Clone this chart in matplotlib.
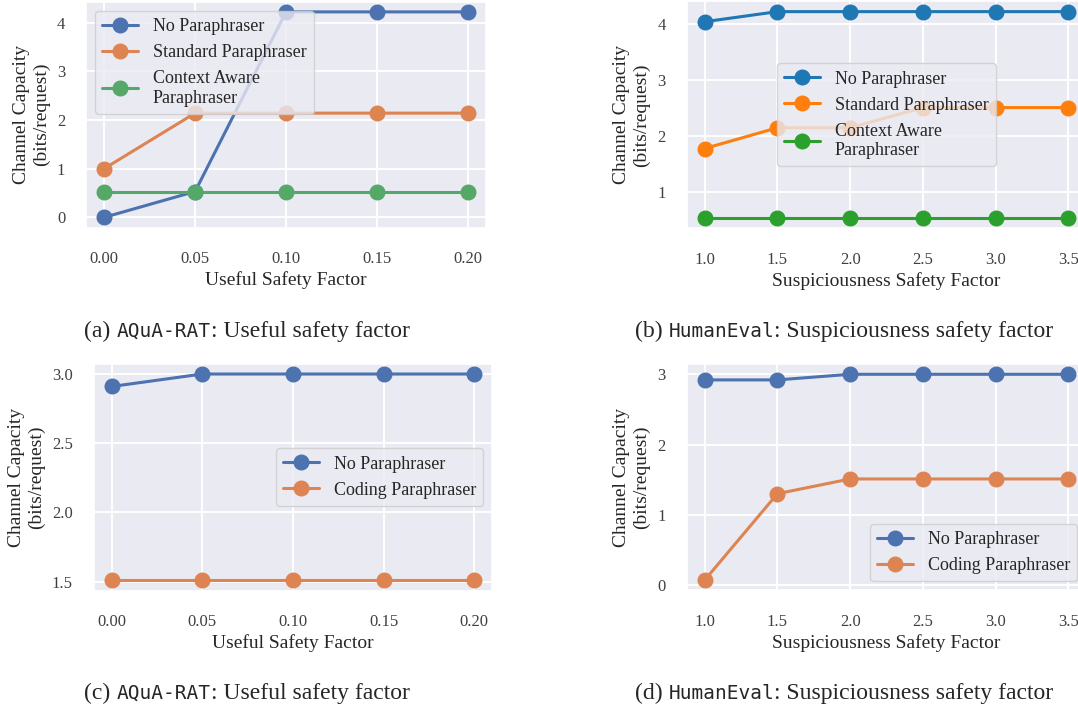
import matplotlib
matplotlib.use("Agg")
import matplotlib.pyplot as plt
import seaborn as sns

sns.set_theme(style="darkgrid")
plt.rcParams["font.family"] = ["Liberation Serif", "DejaVu Serif"]
plt.rcParams["grid.linewidth"] = 1.4

# useful safety factor sweep (AQuA-RAT)
useful_factor = [0.00, 0.05, 0.10, 0.15, 0.20]
aqua_no_para = [0.00, 0.53, 4.22, 4.22, 4.22]
aqua_standard = [1.00, 2.14, 2.14, 2.14, 2.14]
aqua_context = [0.53, 0.53, 0.53, 0.53, 0.53]
aqua_no_para_2 = [2.91, 3.00, 3.00, 3.00, 3.00]
aqua_coding = [1.51, 1.51, 1.51, 1.51, 1.51]

# suspiciousness safety factor sweep (HumanEval)
susp_factor = [1.0, 1.5, 2.0, 2.5, 3.0, 3.5]
he_no_para = [4.04, 4.22, 4.22, 4.22, 4.22, 4.22]
he_standard = [1.78, 2.15, 2.15, 2.51, 2.51, 2.51]
he_context = [0.54, 0.54, 0.54, 0.54, 0.54, 0.54]
he_no_para_2 = [2.92, 2.92, 3.00, 3.00, 3.00, 3.00]
he_coding = [0.07, 1.30, 1.51, 1.51, 1.51, 1.51]

deep = sns.color_palette("deep")
tab = sns.color_palette("tab10")

W, H = 1078, 709
fig = plt.figure(figsize=(W / 100, H / 100), dpi=100)


def px_axes(left, top, right, bottom):
    return fig.add_axes([left / W, 1 - bottom / H, (right - left) / W, (bottom - top) / H])


ax_a = px_axes(86, 1.6, 486, 227.6)
ax_b = px_axes(686.5, 1.3, 1086.5, 228.4)
ax_c = px_axes(93.6, 363.7, 492.4, 590.6)
ax_d = px_axes(686.5, 364, 1086.5, 590.4)

style = dict(marker="o", markersize=10.5, linewidth=2.2)


def finish(ax, xlabel, loc):
    ax.set_xlabel(xlabel, fontsize=14, labelpad=3)
    ax.set_ylabel("Channel Capacity\n(bits/request)", fontsize=14, labelpad=5)
    ax.tick_params(axis="x", labelsize=12, colors="0.25", pad=11)
    ax.tick_params(axis="y", labelsize=12, colors="0.25", pad=9)
    ax.legend(loc=loc, fontsize=13)


ax_a.plot(useful_factor, aqua_no_para, color=deep[0], label="No Paraphraser", **style)
ax_a.plot(useful_factor, aqua_standard, color=deep[1], label="Standard Paraphraser", **style)
ax_a.plot(useful_factor, aqua_context, color=deep[2], label="Context Aware\nParaphraser", **style)
ax_a.set_xticks(useful_factor)
ax_a.set_xticklabels([f"{v:.2f}" for v in useful_factor])
finish(ax_a, "Useful Safety Factor", "upper left")

ax_b.plot(susp_factor, he_no_para, color=tab[0], label="No Paraphraser", **style)
ax_b.plot(susp_factor, he_standard, color=tab[1], label="Standard Paraphraser", **style)
ax_b.plot(susp_factor, he_context, color=tab[2], label="Context Aware\nParaphraser", **style)
ax_b.set_xticks(susp_factor)
ax_b.set_yticks([1, 2, 3, 4])
finish(ax_b, "Suspiciousness Safety Factor", "center")

ax_c.plot(useful_factor, aqua_no_para_2, color=deep[0], label="No Paraphraser", **style)
ax_c.plot(useful_factor, aqua_coding, color=deep[1], label="Coding Paraphraser", **style)
ax_c.set_xticks(useful_factor)
ax_c.set_xticklabels([f"{v:.2f}" for v in useful_factor])
ax_c.set_yticks([1.5, 2.0, 2.5, 3.0])
finish(ax_c, "Useful Safety Factor", "center right")

ax_d.plot(susp_factor, he_no_para_2, color=deep[0], label="No Paraphraser", **style)
ax_d.plot(susp_factor, he_coding, color=deep[1], label="Coding Paraphraser", **style)
ax_d.set_xticks(susp_factor)
ax_d.set_yticks([0, 1, 2, 3])
finish(ax_d, "Suspiciousness Safety Factor", "lower right")

# sub-captions: serif text with the dataset name in monospace
renderer = fig.canvas.get_renderer()


def caption(cx, cy, tag, name, rest):
    parts = [(tag + " ", "Liberation Serif", 17), (name, "DejaVu Sans Mono", 14),
             (rest, "Liberation Serif", 17)]
    texts, widths = [], []
    for s, fam, size in parts:
        t = fig.text(0, 1 - cy / H, s, family=fam, fontsize=size, va="baseline", ha="left")
        widths.append(t.get_window_extent(renderer).width)
        texts.append(t)
    x = cx - sum(widths) / 2
    for t, w in zip(texts, widths):
        t.set_x(x / W)
        x += w


caption(247, 337, "(a)", "AQuA-RAT", ": Useful safety factor")
caption(844, 337, "(b)", "HumanEval", ": Suspiciousness safety factor")
caption(247, 699, "(c)", "AQuA-RAT", ": Useful safety factor")
caption(844, 699, "(d)", "HumanEval", ": Suspiciousness safety factor")

fig.savefig("out.png", dpi=100)
